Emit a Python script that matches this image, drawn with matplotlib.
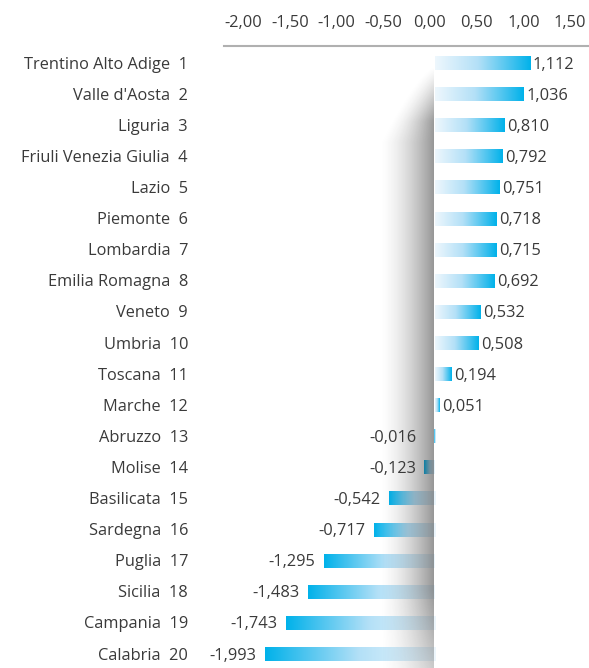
import numpy as np
import matplotlib
matplotlib.use('Agg')
import matplotlib.pyplot as plt
from matplotlib.colors import LinearSegmentedColormap

regions = ['Trentino Alto Adige', "Valle d'Aosta", 'Liguria', 'Friuli Venezia Giulia',
           'Lazio', 'Piemonte', 'Lombardia', 'Emilia Romagna', 'Veneto', 'Umbria',
           'Toscana', 'Marche', 'Abruzzo', 'Molise', 'Basilicata', 'Sardegna',
           'Puglia', 'Sicilia', 'Campania', 'Calabria']
values = [1.112, 1.036, 0.810, 0.792, 0.751, 0.718, 0.715, 0.692, 0.532, 0.508,
          0.194, 0.051, -0.016, -0.123, -0.542, -0.717, -1.295, -1.483, -1.743, -1.993]
ticks = [-2.0, -1.5, -1.0, -0.5, 0.0, 0.5, 1.0, 1.5]

plt.rcParams['font.family'] = ['Open Sans', 'DejaVu Sans']
txt = '#3a3a3a'
fs = 11.8

W, H = 589, 668
fig = plt.figure(figsize=(W / 100, H / 100), dpi=100)
ax = fig.add_axes([224 / W, 0, 1 - 224 / W, 1 - 46 / H])

px_unit = 85.5   # pixels per data unit for the bars
row_px = 31.05
xlim = ((224 - 435) / px_unit, (589 - 435) / px_unit)
ylim = (19 + (668 - 654) / row_px, -(63 - 46) / row_px)

cmap = LinearSegmentedColormap.from_list(
    'bar', [(0, '#eef7fd'), (0.45, '#b3e0f7'), (0.82, '#3cc0ee'), (1, '#00b2ea')])
grad = np.linspace(0, 1, 256).reshape(1, -1)
h = 0.45
dy = 0.05  # nudge text down a little to sit centred on the bars
for i, v in enumerate(values):
    ax.imshow(grad, cmap=cmap, extent=[0, v, i + h / 2, i - h / 2],
              aspect='auto', interpolation='bilinear', zorder=2)
    s = f'{v:.3f}'.replace('.', ',')
    if v >= 0:
        ax.text(v + 0.03, i + dy, s, ha='left', va='center', fontsize=fs, color=txt, zorder=5)
    else:
        ax.text(min(v, -0.12) - 0.1, i + dy, s, ha='right', va='center',
                fontsize=fs, color=txt, zorder=5)
    ax.text(-0.0986, i + dy, f'{regions[i]}  {i + 1}', transform=ax.get_yaxis_transform(),
            ha='right', va='center', fontsize=fs, color=txt)

# page-fold shadow left of zero
nx, ny = 200, 500
sx0 = -62 / px_unit
xs = np.linspace(sx0, -0.02, nx)
ys = np.linspace(0.1, ylim[0], ny)
X, Y = np.meshgrid(xs, ys)
d = -X * px_unit + 2
ypx = 63 + Y * row_px
w = 58 * np.clip((ypx - 62) / 80, 0.05, 1) ** 0.7
vert = np.clip((ypx - 66) / 55, 0, 1) * (1 - 0.5 * np.clip((ypx - 590) / 78, 0, 1))
alpha = 0.52 * np.clip(1 - d / w, 0, 1) ** 1.6 * vert
img = np.zeros((ny, nx, 4))
img[..., :3] = 0.12
img[..., 3] = alpha
ax.imshow(img, extent=[sx0, -0.02, ylim[0], 0.1], aspect='auto',
          interpolation='bilinear', zorder=3)

ax.set_xlim(xlim)
ax.set_ylim(ylim)
ax.set_xticks([])
ax.set_yticks([])
for sp in ax.spines.values():
    sp.set_visible(False)

# top scale
ax2 = ax.twiny()
ax2.set_xlim((224 - 430) / 93.4, (589 - 430) / 93.4)
ax2.set_xticks(ticks)
ax2.set_xticklabels([f'{t:.2f}'.replace('.', ',') for t in ticks], fontsize=fs, color=txt)
ax2.tick_params(axis='x', length=0, pad=11)
for k, sp in ax2.spines.items():
    sp.set_visible(k == 'top')
ax2.spines['top'].set_color('#b0b0b0')
ax2.spines['top'].set_linewidth(1.5)
ax2.set_yticks([])

fig.savefig('out.png', dpi=100)
